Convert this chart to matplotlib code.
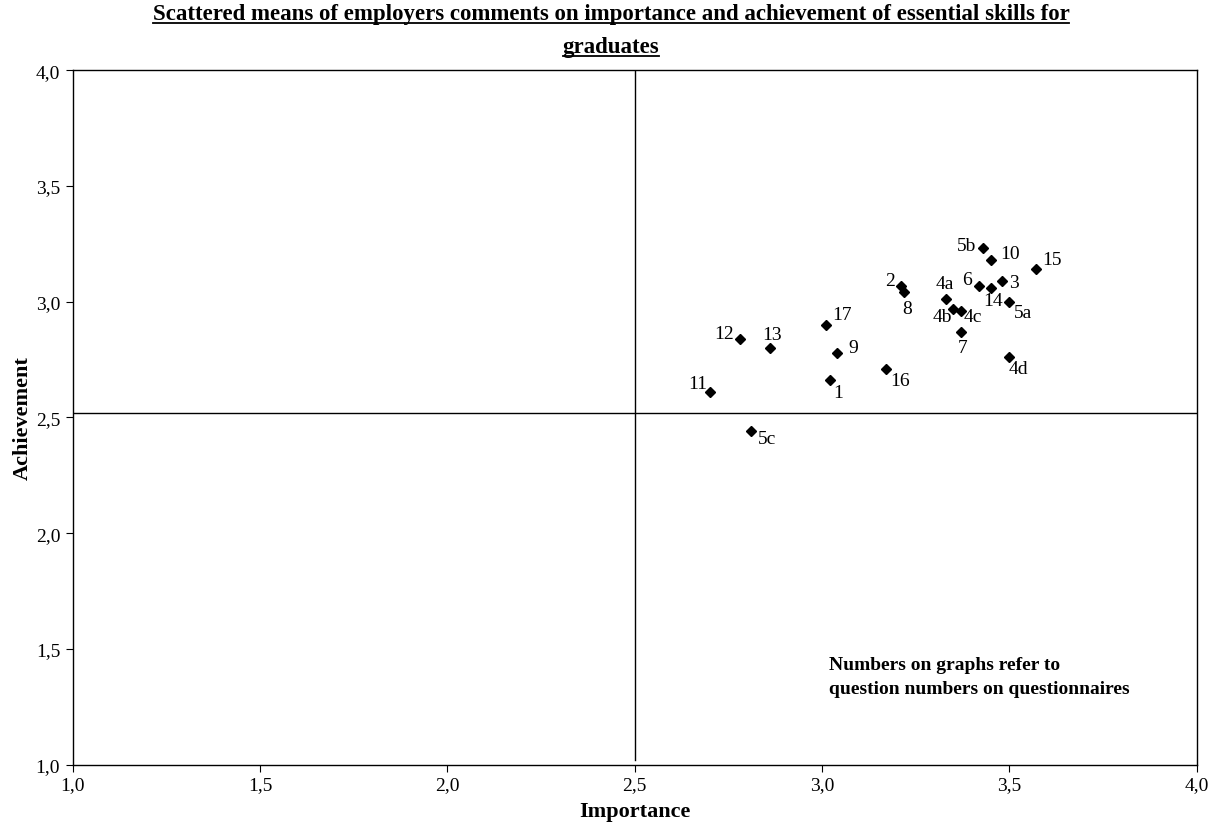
import matplotlib
matplotlib.use('Agg')
import matplotlib.pyplot as plt
from matplotlib.ticker import FuncFormatter, MultipleLocator
from matplotlib.lines import Line2D

plt.rcParams['font.family'] = ['Liberation Serif', 'DejaVu Serif']

# question numbers and their mean scores
labels = ['1', '2', '3', '4a', '4b', '4c', '4d', '5a', '5b', '5c', '6',
          '7', '8', '9', '10', '11', '12', '13', '14', '15', '16', '17']
importance = [3.02, 3.21, 3.48, 3.33, 3.35, 3.37, 3.50, 3.50, 3.43, 2.81, 3.42,
              3.37, 3.22, 3.04, 3.45, 2.70, 2.78, 2.86, 3.45, 3.57, 3.17, 3.01]
achievement = [2.66, 3.07, 3.09, 3.01, 2.97, 2.96, 2.76, 3.00, 3.23, 2.44, 3.07,
               2.87, 3.04, 2.78, 3.18, 2.61, 2.84, 2.80, 3.06, 3.14, 2.71, 2.90]

# label offsets in pixels (dx, dy) from each point
offsets = {'1': (9, -12), '2': (-11, 5), '3': (12, -2), '4a': (-1, 16),
           '4b': (-11, -8), '4c': (12, -6), '4d': (9, -11), '5a': (14, -11),
           '5b': (-17, 3), '5c': (16, -7), '6': (-12, 6), '7': (2, -16),
           '8': (3, -16), '9': (16, 5), '10': (19, 7), '11': (-12, 9),
           '12': (-16, 5), '13': (2, 14), '14': (2, -13), '15': (16, 10),
           '16': (14, -12), '17': (16, 10)}

# dividing lines
imp_split = 2.5
ach_split = 2.52

fig = plt.figure(figsize=(12.22, 8.28), dpi=100)
ax = fig.add_axes([0.0595, 0.0752, 0.9198, 0.8388])

ax.plot(importance, achievement, 'D', color='black', markersize=5)
for lab, x, y in zip(labels, importance, achievement):
    dx, dy = offsets[lab]
    ax.annotate(lab, (x, y), xytext=(dx, dy), textcoords='offset pixels',
                ha='center', va='center', fontsize=14)

ax.plot([1.0, 4.0], [ach_split, ach_split], color='black', lw=1)
ax.plot([imp_split, imp_split], [1.02, 4.0], color='black', lw=1)

ax.set_xlim(1.0, 4.0)
ax.set_ylim(1.0, 4.0)
ax.xaxis.set_major_locator(MultipleLocator(0.5))
ax.yaxis.set_major_locator(MultipleLocator(0.5))
fmt = FuncFormatter(lambda v, p: f'{v:.1f}'.replace('.', ','))
ax.xaxis.set_major_formatter(fmt)
ax.yaxis.set_major_formatter(fmt)
ax.tick_params(direction='out', length=5, width=0.8, labelsize=14)
ax.tick_params(axis='x', pad=3)
ax.tick_params(axis='y', pad=4)
for s in ax.spines.values():
    s.set_linewidth(1)

ax.set_xlabel('Importance', fontsize=16, fontweight='bold', labelpad=6)
ax.set_ylabel('Achievement', fontsize=16, fontweight='bold', labelpad=2)

ax.text(0.673, 0.156, 'Numbers on graphs refer to\nquestion numbers on questionnaires',
        transform=ax.transAxes, fontsize=14, fontweight='bold',
        ha='left', va='top', linespacing=1.5)

t1 = fig.text(0.5, 0.983, 'Scattered means of employers comments on importance and '
              'achievement of essential skills for', ha='center', va='center',
              fontsize=16.5, fontweight='bold')
t2 = fig.text(0.5, 0.943, 'graduates', ha='center', va='center',
              fontsize=16.5, fontweight='bold')

# underline the title lines
fig.canvas.draw()
r = fig.canvas.get_renderer()
for t in (t1, t2):
    bb = t.get_window_extent(r)
    x0, x1 = bb.x0 / 1222, bb.x1 / 1222
    yl = (bb.y0 + 1) / 828
    fig.add_artist(Line2D([x0, x1], [yl, yl], color='black', lw=1.3,
                          transform=fig.transFigure))

fig.savefig('out.png', dpi=100)
